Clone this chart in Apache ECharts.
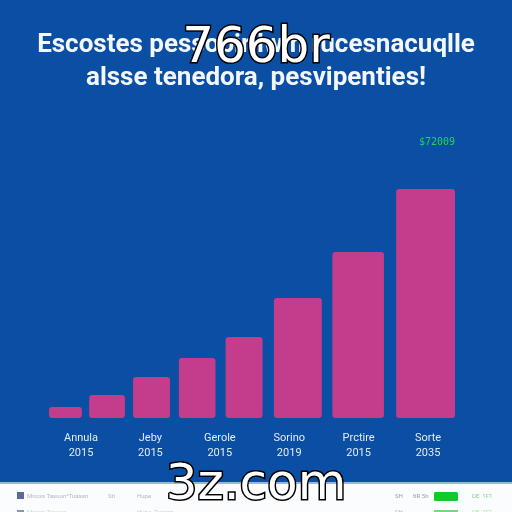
<!DOCTYPE html>
<html>
<head>
<meta charset="utf-8">
<title>766br</title>
<script src="https://cdn.jsdelivr.net/npm/echarts@6/dist/echarts.min.js"></script>
<style>
html, body { margin: 0; padding: 0; background: #0a4fa3; }
#main { width: 512px; height: 512px; }
</style>
</head>
<body>
<div id="main"></div>
<script>
// bars have uneven widths, so each one spans a range on a 0-100 x scale
var barStart = [0, 9.9, 20.7, 32, 43.5, 55.4, 69.8, 85.5];
var barEnd = [8.1, 18.7, 29.8, 41, 52.6, 67.2, 82.5, 100];
var barValues = [3460, 7230, 12890, 18870, 25470, 37730, 52200, 72009];
var tickLabels = ['Annula\n2015', 'Jeby\n2015', 'Gerole\n2015', 'Sorino\n2019', 'Prctire\n2015', 'Sorte\n2035'];
var topLabel = '$72009';
var titleLines = 'Escostes pessobir lwin rucesnacuqlle\nalsse tenedora, pesvipenties!';

var barData = barValues.map(function (v, i) {
	return [barStart[i], barEnd[i], v];
});

function renderBar(params, api) {
	var p0 = api.coord([api.value(0), api.value(2)]);
	var p1 = api.coord([api.value(1), 0]);
	return {
		type: 'rect',
		shape: { x: p0[0], y: p0[1], width: p1[0] - p0[0], height: p1[1] - p0[1], r: 3 },
		style: { fill: '#c43d8c' }
	};
}

function stamp(text, top) {
	return {
		text: text, left: 'center', top: top, z: 20,
		textStyle: {
			fontFamily: 'DejaVu Sans', fontSize: 50, fontWeight: 'normal',
			color: '#fff', textBorderColor: '#000', textBorderWidth: 3
		}
	};
}

function rowText(text, x, y, color, opacity) {
	return {
		type: 'text', x: x, y: y, z: 5,
		style: { text: text, fill: color, font: '6px Roboto', opacity: opacity }
	};
}

var chart = echarts.init(document.getElementById('main'));
chart.setOption({
	animation: false,
	backgroundColor: '#0a4fa3',
	title: [
		{
			text: titleLines, left: 'center', top: 24, z: 10,
			textStyle: {
				fontFamily: 'Roboto', fontSize: 26, fontWeight: 'bold',
				color: '#f4f8fd', lineHeight: 33
			}
		},
		{
			text: topLabel, left: 414, top: 132,
			textStyle: { fontFamily: 'DejaVu Sans Mono', fontSize: 10, fontWeight: 'normal', color: '#1fd35a' }
		},
		stamp('766br', 19),
		stamp('3z.com', 456)
	],
	grid: [
		{ left: 49, width: 406, top: 189, height: 229 },
		{ left: 46.3, width: 416.4, top: 189, height: 229 }
	],
	xAxis: [
		{ type: 'value', gridIndex: 0, min: 0, max: 100, show: false },
		{
			type: 'category', gridIndex: 1, data: tickLabels,
			axisLine: { show: false }, axisTick: { show: false },
			axisLabel: { color: '#e3ebf6', fontFamily: 'Roboto', fontSize: 11, lineHeight: 15, margin: 13, interval: 0 }
		}
	],
	yAxis: [
		{ type: 'value', gridIndex: 0, min: 0, max: 72009, show: false },
		{ type: 'value', gridIndex: 1, show: false }
	],
	series: [
		{ type: 'custom', xAxisIndex: 0, yAxisIndex: 0, renderItem: renderBar, data: barData, encode: { x: [0, 1], y: 2 } }
	],
	// white table strip cut off at the bottom of the picture
	graphic: [
		{ type: 'rect', z: 1, shape: { x: 0, y: 483, width: 512, height: 29 }, style: { fill: '#fbfcfd' } },
		{ type: 'rect', z: 1, shape: { x: 0, y: 482, width: 512, height: 2 }, style: { fill: '#9db6d6' } },
		{ type: 'rect', z: 5, shape: { x: 17, y: 492, width: 7, height: 7 }, style: { fill: '#5a6a94' } },
		rowText('Mnoxs Tasoon^Tuaasn', 27, 493, '#9aa2b4', 0.75),
		rowText('Sti', 108, 493, '#9aa2b4', 0.75),
		rowText('Hupe', 137, 493, '#9aa2b4', 0.75),
		rowText('SH', 395, 493, '#777f8c', 0.75),
		rowText('tIR 5h', 413, 493, '#777f8c', 0.75),
		{ type: 'rect', z: 5, shape: { x: 434, y: 492, width: 24, height: 9, r: 1.5 }, style: { fill: '#10c92f' } },
		rowText('DE  1F1', 472, 493, '#56c96a', 0.75),
		// second row, only its top shows
		{ type: 'rect', z: 5, shape: { x: 17, y: 510, width: 7, height: 2 }, style: { fill: '#8a94ad' } },
		rowText('Mnoxs Tasoon', 27, 509, '#9aa2b4', 0.5),
		rowText('Hupe  Tuaasn', 137, 509, '#9aa2b4', 0.5),
		rowText('SH', 395, 509, '#777f8c', 0.5),
		{ type: 'rect', z: 5, shape: { x: 434, y: 510, width: 24, height: 2 }, style: { fill: '#6fdc80' } },
		rowText('DE  1F1', 472, 509, '#56c96a', 0.5)
	]
});
</script>
</body>
</html>
